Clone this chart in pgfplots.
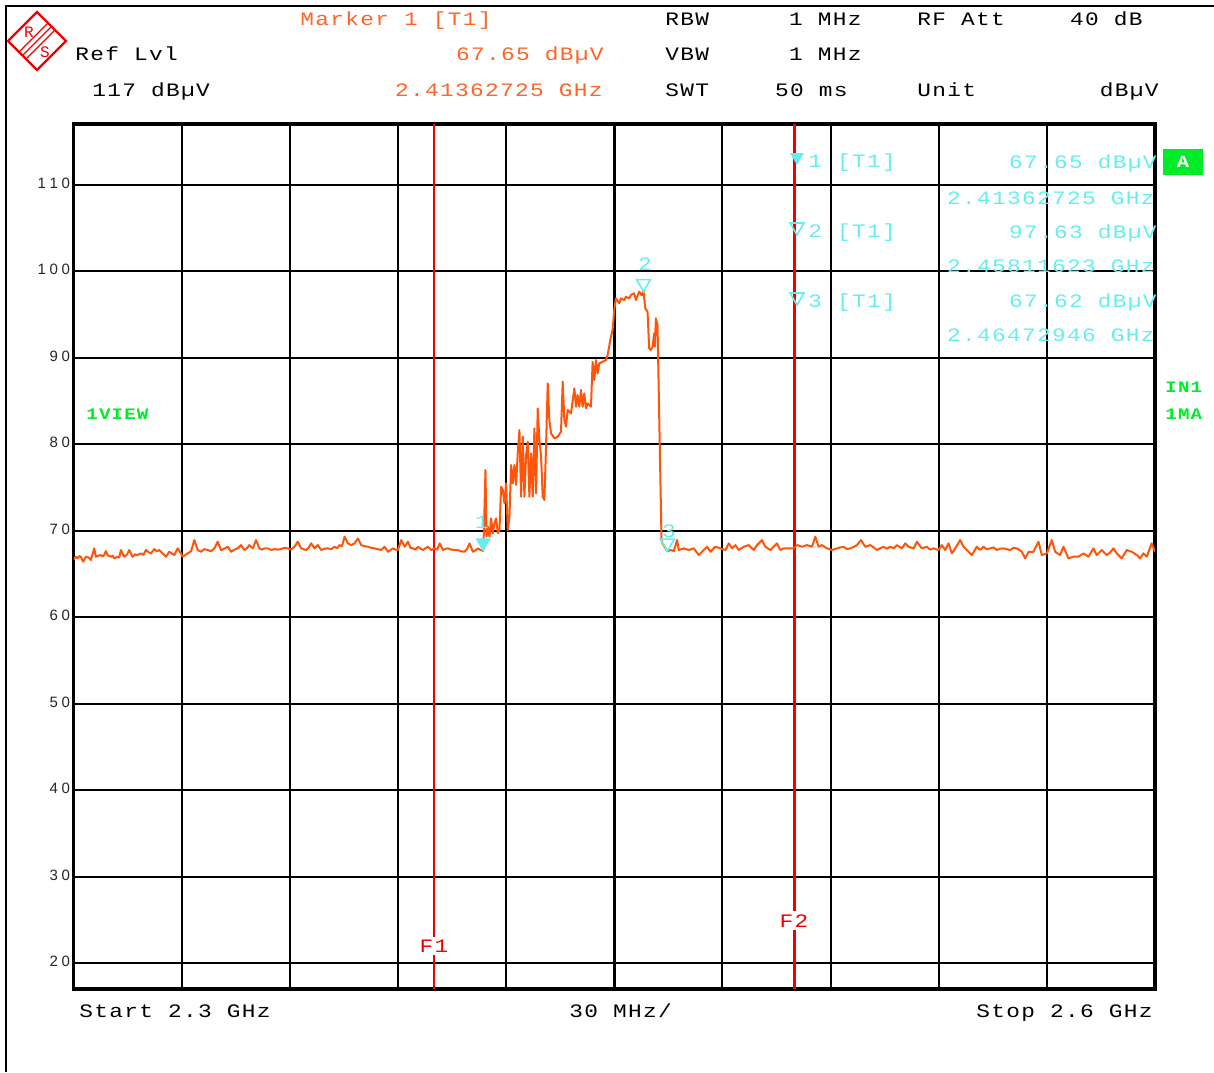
\documentclass[border=0pt]{standalone}
\usepackage{fontspec}
\setmainfont{Liberation Mono}
\newfontfamily\mono[FakeStretch=1.2, LetterSpace=7]{Liberation Mono}
\newfontfamily\sansf{Liberation Sans}
\usepackage{pgfplots}
\usepackage{pgfplotstable}
\pgfplotsset{compat=1.18}

\definecolor{trace}{RGB}{255,85,10}
\definecolor{hdr}{RGB}{255,100,40}
\definecolor{mk}{RGB}{100,238,238}
\definecolor{grn}{RGB}{0,236,40}
\definecolor{fred}{RGB}{240,0,0}

% trace 1: frequency (MHz), level (dBuV)
\pgfplotstableread{
f lvl
2300.00 66.67
2300.60 66.95
2301.11 66.80
2301.60 67.05
2302.04 66.97
2302.68 66.40
2303.43 66.97
2304.35 66.86
2304.81 66.59
2305.74 67.94
2306.20 66.97
2306.90 67.10
2307.59 67.17
2308.05 67.00
2308.52 67.17
2308.98 67.63
2309.44 67.17
2310.37 66.97
2310.85 67.10
2311.30 66.78
2312.22 66.97
2312.70 66.90
2313.15 67.75
2314.07 66.97
2314.80 67.20
2315.46 67.75
2316.39 66.97
2317.10 67.25
2317.78 67.17
2318.70 67.36
2319.40 67.20
2320.09 67.75
2320.80 67.50
2321.48 67.36
2322.41 67.86
2323.10 67.60
2323.79 67.75
2324.72 67.36
2325.65 66.97
2326.57 67.55
2327.30 67.35
2327.96 67.17
2328.89 67.94
2329.60 67.50
2330.28 66.97
2331.67 67.36
2332.60 67.60
2333.52 68.90
2334.44 67.75
2335.37 67.55
2336.30 67.85
2337.22 67.75
2338.10 67.60
2339.07 67.94
2340.00 68.71
2340.92 67.75
2341.80 67.90
2342.78 68.13
2343.70 67.55
2344.60 67.80
2345.55 67.94
2346.48 68.32
2347.41 67.75
2348.10 67.95
2348.79 68.32
2349.72 67.94
2350.65 68.90
2351.57 67.94
2352.30 67.80
2353.10 67.95
2353.89 67.94
2354.80 67.75
2355.74 67.86
2356.70 67.80
2357.59 67.86
2358.50 68.00
2359.44 67.94
2360.40 67.80
2361.29 68.13
2362.22 68.71
2363.15 67.94
2364.53 67.75
2365.20 68.00
2365.92 68.52
2366.85 67.94
2367.77 68.32
2368.70 67.75
2369.60 67.90
2370.55 67.94
2371.50 67.85
2372.41 68.13
2373.10 67.95
2373.80 68.32
2374.50 68.20
2375.18 69.29
2376.11 68.52
2377.04 68.32
2377.96 68.52
2378.89 69.09
2379.81 68.32
2380.70 68.20
2381.66 68.13
2382.60 68.00
2383.52 67.94
2384.40 67.85
2385.37 67.75
2386.29 68.13
2387.22 67.55
2388.61 67.94
2389.30 67.80
2390.00 67.75
2390.92 68.90
2391.85 68.13
2392.78 68.71
2393.50 68.00
2394.16 67.94
2394.90 67.80
2395.55 68.13
2396.30 67.90
2396.94 67.75
2397.60 67.95
2398.33 68.13
2399.26 67.75
2400.18 67.94
2400.90 67.80
2401.57 68.52
2402.50 67.75
2403.20 67.90
2403.89 67.94
2404.80 67.80
2405.74 67.75
2406.62 67.75
2407.50 67.60
2408.47 67.56
2409.20 67.90
2409.85 68.52
2410.77 67.56
2411.50 67.70
2412.16 67.94
2412.90 67.75
2413.63 67.65
2413.82 69.68
2414.28 77.00
2414.56 69.30
2414.93 70.45
2415.39 69.30
2415.85 71.41
2416.31 69.68
2416.77 70.83
2417.23 71.41
2417.70 69.68
2418.16 70.06
2418.62 75.07
2419.08 74.69
2419.54 73.15
2420.00 75.46
2420.47 70.06
2420.93 71.60
2421.39 77.58
2421.85 75.46
2422.31 77.58
2422.77 75.27
2423.23 78.93
2423.70 81.62
2424.16 73.92
2424.62 80.85
2425.08 73.92
2425.54 78.73
2426.00 80.27
2426.46 73.92
2426.93 78.93
2427.39 73.92
2427.85 81.82
2428.31 74.30
2428.77 84.13
2429.23 80.47
2429.70 78.54
2430.16 73.92
2430.62 73.53
2431.08 79.70
2431.54 87.02
2432.00 82.78
2432.46 81.24
2433.39 80.66
2434.31 80.85
2435.23 81.43
2435.70 87.21
2436.16 82.78
2436.62 82.01
2437.08 83.94
2438.00 83.55
2438.93 86.44
2439.39 84.32
2439.85 85.67
2440.31 84.32
2440.77 86.25
2441.23 84.32
2441.69 85.86
2442.16 84.13
2442.62 84.71
2443.54 84.32
2444.00 89.50
2444.46 87.40
2444.92 89.71
2445.39 88.17
2445.85 89.33
2446.77 89.52
2447.69 89.71
2448.16 90.29
2449.08 92.41
2449.54 93.18
2450.00 95.49
2450.46 96.84
2451.39 96.26
2451.85 96.84
2452.77 96.65
2453.23 97.03
2454.15 96.84
2454.62 97.23
2455.54 97.42
2456.00 96.65
2456.92 97.61
2457.60 97.20
2458.12 97.63
2458.60 95.70
2459.23 95.30
2459.69 91.06
2460.15 90.87
2460.62 91.25
2461.08 92.80
2461.26 91.25
2461.54 94.53
2462.00 93.76
2463.11 68.90
2463.38 68.52
2464.73 67.62
2465.69 67.75
2466.51 67.63
2467.43 68.90
2467.89 67.75
2469.28 67.94
2470.66 67.75
2472.05 67.94
2473.44 67.17
2474.82 67.75
2475.75 68.13
2476.67 67.55
2478.06 68.13
2479.44 67.94
2480.83 67.75
2481.75 68.52
2482.68 67.94
2483.60 68.32
2484.52 67.75
2485.91 68.13
2487.30 68.32
2488.68 67.75
2489.60 68.32
2490.99 68.90
2491.91 68.13
2493.30 67.75
2495.15 68.52
2496.07 67.75
2497.00 67.94
2498.38 67.94
2499.77 67.94
2500.69 68.32
2502.08 68.13
2503.46 68.32
2504.85 68.13
2505.77 69.29
2506.70 68.13
2507.62 68.32
2509.01 67.94
2510.39 67.75
2511.78 67.94
2512.70 68.05
2513.63 68.13
2514.50 67.85
2515.47 67.94
2516.40 68.10
2517.32 68.32
2518.43 68.90
2519.63 68.13
2521.02 68.32
2522.00 68.05
2522.87 67.75
2523.80 67.95
2524.71 68.13
2525.60 67.90
2526.56 68.13
2527.50 67.95
2528.41 68.32
2529.79 67.94
2530.72 68.52
2531.64 68.13
2533.03 67.94
2533.95 68.71
2535.34 67.94
2536.72 68.13
2537.60 67.80
2538.57 67.94
2539.96 67.75
2540.88 68.32
2541.80 67.75
2542.73 68.52
2543.65 67.36
2544.58 67.94
2545.96 68.90
2546.89 68.13
2548.27 67.55
2549.20 67.17
2550.58 68.13
2551.51 67.75
2552.43 68.13
2553.30 67.85
2554.28 67.94
2555.20 68.05
2556.13 67.75
2557.00 67.90
2557.97 67.94
2558.90 67.85
2559.82 67.75
2560.70 68.00
2561.67 67.94
2563.06 67.55
2563.98 66.78
2564.91 67.55
2566.29 67.55
2567.68 68.71
2568.60 67.17
2569.99 67.36
2571.37 68.90
2572.30 67.55
2573.68 67.17
2574.60 68.13
2575.99 66.78
2577.38 66.98
2578.76 66.98
2580.15 67.36
2581.53 66.98
2582.92 67.94
2583.84 67.17
2585.23 67.75
2586.61 67.17
2587.50 67.45
2588.46 67.94
2589.39 67.36
2590.77 66.78
2592.16 67.75
2593.54 67.55
2594.93 67.17
2595.85 66.78
2596.78 67.36
2597.70 66.98
2599.08 68.52
2600.00 67.55
}\tracedata

\begin{document}
\begin{tikzpicture}
\useasboundingbox (0,0) rectangle (607pt,-536pt);

\begin{axis}[
    at={(36.75pt,-494.5pt)}, anchor=south west,
    scale only axis, width=540.75pt, height=432.5pt,
    xmin=2300, xmax=2600, ymin=17, ymax=117,
    xtick={2330,2360,2390,2420,2450,2480,2510,2540,2570},
    ytick={20,30,40,50,60,70,80,90,100,110},
    xticklabels={,,,,,,,,},
    yticklabels={2\kern1.8pt0, 3\kern1.8pt0, 4\kern1.8pt0, 5\kern1.8pt0, 6\kern1.8pt0,
                 7\kern1.8pt0, 8\kern1.8pt0, 9\kern1.8pt0, 1\kern1.8pt0\kern1.8pt0, 1\kern1.8pt1\kern1.8pt0},
    yticklabel style={font=\sansf\fontsize{7.5pt}{8pt}\selectfont, text=black!85,
                      anchor=east, inner sep=0pt, xshift=-1.6pt, yshift=0.8pt},
    major tick length=0pt,
    grid=major,
    major grid style={black, line width=1pt},
    axis line style={black, line width=1.8pt},
]
\addplot[black, line width=1.6pt] coordinates {(2450,17) (2450,117)};
\addplot[fred, line width=1.2pt] coordinates {(2400,17) (2400,117)};
\addplot[fred, line width=1.2pt] coordinates {(2500,17) (2500,117)};
\addplot[trace, line width=1pt, line join=round, mark=none] table[x=f, y=lvl] {\tracedata};
% markers
\addplot[only marks, mk, mark=triangle*, mark size=4pt,
         mark options={yshift=4pt, rotate=180, fill=mk}] coordinates {(2413.63,67.65)};
\addplot[only marks, mk, mark=triangle, mark size=4pt,
         mark options={yshift=4pt, rotate=180, line width=0.8pt}] coordinates {(2458.12,97.63) (2464.73,67.62)};
\end{axis}

\begin{scope}[x=0.5pt, y=-0.5pt, every node/.style={inner sep=0pt},
              font=\mono\fontsize{9.5pt}{11pt}\selectfont]
% page border
\draw[line width=0.9pt] (6,1072) -- (6,6) -- (1214,6);
% logo
\draw[fred, line width=1.1pt, line join=miter] (37,12) -- (66,41) -- (37,70) -- (8,41) -- cycle;
\draw[fred, line width=0.6pt] (48,23) -- (19,52) (51.5,26.5) -- (22.5,55.5) (55,30) -- (26,59);
\node[text=fred, font=\fontsize{8pt}{9pt}\selectfont] at (29,32) {R};
\node[text=fred, font=\fontsize{8pt}{9pt}\selectfont] at (45,52) {S};

% header
\node[anchor=base west, text=hdr] at (300,25) {Marker 1 [T1]};
\node[anchor=base west] at (665,25) {RBW};
\node[anchor=base east] at (862,25) {1 MHz};
\node[anchor=base west] at (917,25) {RF Att};
\node[anchor=base east] at (1143,25) {40 dB};

\node[anchor=base west] at (75,60) {Ref Lvl};
\node[anchor=base east, text=hdr] at (604,60) {67.65 dBµV};
\node[anchor=base west] at (665,60) {VBW};
\node[anchor=base east] at (862,60) {1 MHz};

\node[anchor=base west] at (92,96) {117 dBµV};
\node[anchor=base east, text=hdr] at (603,96) {2.41362725 GHz};
\node[anchor=base west] at (665,96) {SWT};
\node[anchor=base east] at (848,96) {50 ms};
\node[anchor=base west] at (917,96) {Unit};
\node[anchor=base east] at (1159,96) {dBµV};

% marker table
\fill[mk] (790,153) -- (804,153) -- (797,165) -- cycle;
\node[anchor=base west, text=mk] at (808,167) {1 [T1]};
\node[anchor=base east, text=mk] at (1157,168) {67.65 dBµV};
\node[anchor=base east, text=mk] at (1155,204) {2.41362725 GHz};
\draw[mk, line width=0.8pt] (790,223) -- (804,223) -- (797,235) -- cycle;
\node[anchor=base west, text=mk] at (808,237) {2 [T1]};
\node[anchor=base east, text=mk] at (1157,238) {97.63 dBµV};
\node[anchor=base east, text=mk] at (1155,272) {2.45811623 GHz};
\draw[mk, line width=0.8pt] (790,293) -- (804,293) -- (797,305) -- cycle;
\node[anchor=base west, text=mk] at (808,307) {3 [T1]};
\node[anchor=base east, text=mk] at (1157,307) {67.62 dBµV};
\node[anchor=base east, text=mk] at (1155,341) {2.46472946 GHz};

% marker numbers on the trace
\node[anchor=base, text=mk] at (482,528) {1};
\node[anchor=base, text=mk] at (645,270) {2};
\node[anchor=base, text=mk] at (669,537) {3};

% side labels
\fill[grn] (1163,149) rectangle (1203,175);
\node[text=white, font=\mono\bfseries\fontsize{8.5pt}{10pt}\selectfont] at (1183,162) {A};
\node[anchor=base west, text=grn, font=\mono\bfseries\fontsize{8pt}{10pt}\selectfont] at (1165,392) {IN1};
\node[anchor=base west, text=grn, font=\mono\bfseries\fontsize{8pt}{10pt}\selectfont] at (1165,419) {1MA};
\node[anchor=base west, text=grn, font=\mono\bfseries\fontsize{8pt}{10pt}\selectfont] at (86,419) {1VIEW};

% display lines
\node[anchor=base, text=fred, fill=white, inner sep=1.5pt] at (434,952) {F1};
\node[anchor=base, text=fred, fill=white, inner sep=1.5pt] at (794,927) {F2};

% footer
\node[anchor=base west] at (79,1017) {Start 2.3 GHz};
\node[anchor=base west] at (569,1017) {30 MHz/};
\node[anchor=base east] at (1153,1017) {Stop 2.6 GHz};
\end{scope}
\end{tikzpicture}
\end{document}
